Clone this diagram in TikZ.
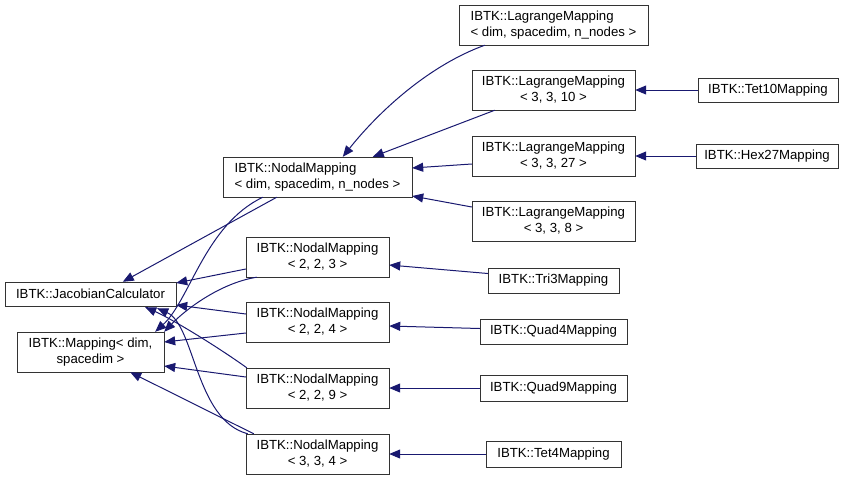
\documentclass[tikz,border=0pt]{standalone}
\usepackage{fontspec}
\setmainfont{Liberation Sans}
\usetikzlibrary{arrows.meta,calc}
\definecolor{edgeblue}{HTML}{191970}

\begin{document}
\begin{tikzpicture}[x=1pt,y=-1pt,
  box/.style={draw=black!80,fill=white,inner sep=0pt,minimum height=40pt,align=center,
    font=\fontsize{13.2}{16}\selectfont},
  arr/.style={{Triangle[length=11pt,width=9pt]}-,edgeblue,line width=1pt}
]
\useasboundingbox (0,0) rectangle (848,480);
% base classes
\node[box,minimum width=171pt,minimum height=24pt] (jac) at (90.5,294) {IBTK::JacobianCalculator};
\node[box,minimum width=147pt] (map) at (90.5,352) {IBTK::Mapping< dim,\\spacedim >};
% nodal mappings
\node[box,minimum width=189pt,align=left] (nodal) at (317.5,177) {IBTK::NodalMapping\\< dim, spacedim, n\_nodes >};
\node[box,minimum width=143pt] (nodal223) at (317.5,257) {IBTK::NodalMapping\\< 2, 2, 3 >};
\node[box,minimum width=143pt] (nodal224) at (317.5,322) {IBTK::NodalMapping\\< 2, 2, 4 >};
\node[box,minimum width=143pt] (nodal229) at (317.5,388) {IBTK::NodalMapping\\< 2, 2, 9 >};
\node[box,minimum width=143pt] (nodal334) at (317.5,454) {IBTK::NodalMapping\\< 3, 3, 4 >};
% lagrange mappings
\node[box,minimum width=189pt,align=left] (lag) at (553.5,25) {IBTK::LagrangeMapping\\< dim, spacedim, n\_nodes >};
\node[box,minimum width=163pt] (lag3310) at (553.5,90) {IBTK::LagrangeMapping\\< 3, 3, 10 >};
\node[box,minimum width=163pt] (lag3327) at (553.5,156) {IBTK::LagrangeMapping\\< 3, 3, 27 >};
\node[box,minimum width=163pt] (lag338) at (553.5,221) {IBTK::LagrangeMapping\\< 3, 3, 8 >};
% concrete elements
\node[box,minimum width=140pt,minimum height=24pt] (tet10) at (768,90) {IBTK::Tet10Mapping};
\node[box,minimum width=142pt,minimum height=24pt] (hex27) at (767,156) {IBTK::Hex27Mapping};
\node[box,minimum width=131pt,minimum height=25pt] (tri3) at (553.5,280.5) {IBTK::Tri3Mapping};
\node[box,minimum width=147pt,minimum height=25pt] (quad4) at (553.5,331.5) {IBTK::Quad4Mapping};
\node[box,minimum width=147pt,minimum height=26pt] (quad9) at (553.5,388) {IBTK::Quad9Mapping};
\node[box,minimum width=135pt,minimum height=26pt] (tet4) at (553.5,454) {IBTK::Tet4Mapping};

\draw[arr] ($(jac.north west)+(118,0)$) -- ($(nodal.south west)+(54,0)$);
\draw[arr] ($(map.north east)+(-9,0)$) .. controls (190,300) and (205,225) .. ($(nodal.south west)+(40,0)$);
\draw[arr] ($(jac.east)+(0,-11)$) -- ($(nodal223.west)+(0,12)$);
\draw[arr] (map.north east) .. controls (185,310) and (220,283) .. ($(nodal223.south west)+(11,0)$);
\draw[arr] ($(jac.east)+(0,11)$) -- ($(nodal224.west)+(0,-8)$);
\draw[arr] ($(map.east)+(0,-10)$) -- ($(nodal224.west)+(0,11)$);
\draw[arr] ($(jac.south east)+(-31,1)$) .. controls (170,318) and (215,345) .. ($(nodal229.north west)+(1,0)$);
\draw[arr] ($(map.east)+(0,14)$) -- ($(nodal229.west)+(0,-11)$);
\draw[arr] ($(jac.south east)+(-19,2)$) .. controls (195,325) and (195,420) .. ($(nodal334.north west)+(2,0)$);
\draw[arr] ($(map.south east)+(-34,0)$) -- ($(nodal334.north west)+(8,0)$);

\draw[arr] ($(nodal.north west)+(120,0)$) .. controls (380,110) and (430,65) .. ($(lag.south west)+(26,0)$);
\draw[arr] ($(nodal.north west)+(150,0)$) -- ($(lag3310.south west)+(23,0)$);
\draw[arr] ($(nodal.east)+(0,-9)$) -- ($(lag3327.west)+(0,8)$);
\draw[arr] ($(nodal.east)+(0,19)$) -- ($(lag338.west)+(0,-14)$);

\draw[arr] (lag3310) -- (tet10);
\draw[arr] (lag3327) -- (hex27);
\draw[arr] ($(nodal223.east)+(0,8)$) -- ($(tri3.west)+(0,-7)$);
\draw[arr] ($(nodal224.east)+(0,4)$) -- ($(quad4.west)+(0,-3)$);
\draw[arr] (nodal229) -- (quad9);
\draw[arr] (nodal334) -- (tet4);
\end{tikzpicture}
\end{document}
